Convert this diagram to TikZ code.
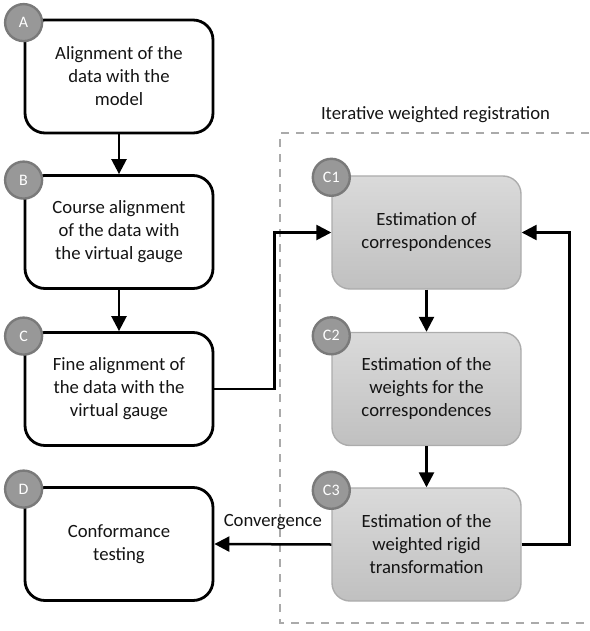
\documentclass[tikz,border=0pt]{standalone}
\usepackage{fontspec}
\setmainfont{Carlito}
\usetikzlibrary{arrows.meta,calc,positioning}
\definecolor{grtop}{RGB}{218,218,218}
\definecolor{grbot}{RGB}{192,192,192}
\definecolor{grborder}{RGB}{172,172,172}
\definecolor{circfill}{RGB}{152,152,152}
\definecolor{circborder}{RGB}{122,122,122}
\definecolor{dashgray}{RGB}{170,170,170}
\definecolor{txt}{RGB}{20,20,20}
\tikzset{
  whitebox/.style={draw=black, line width=2.8pt, fill=white, rounded corners=20pt,
    minimum width=188pt, minimum height=113pt, align=center, text=txt,
    font=\fontsize{18.7}{23}\selectfont, inner sep=0pt},
  graybox/.style={draw=grborder, line width=1.4pt, top color=grtop, bottom color=grbot,
    rounded corners=18pt, minimum width=189pt, minimum height=113pt, align=center,
    text=txt, font=\fontsize{18.7}{23}\selectfont, inner sep=0pt},
  badge/.style={circle, draw=circborder, line width=2.4pt, fill=circfill,
    minimum size=37pt, inner sep=0pt, text=white, font=\fontsize{16}{18}\selectfont},
  arr/.style={draw=black, line width=2.5pt, -{Triangle[length=15pt,width=15pt]}},
  lbl/.style={font=\fontsize{18.7}{23}\selectfont, text=txt}
}
\begin{document}
\begin{tikzpicture}[x=1pt,y=-1pt]
\useasboundingbox (0,0) rectangle (589,631);
% dashed group frame
\draw[dashgray, line width=1.8pt, dash pattern=on 8pt off 7pt] (589,133) -- (280,133) -- (280,623) -- (589,623);
\node[lbl] (title) at (435.5,115) {Iterative weighted registration};
% left column
\node[whitebox] (A) at (119,76.5) {Alignment of the\\data with the\\model};
\node[whitebox] (B) at (119,232) {Course alignment\\of the data with\\the virtual gauge};
\node[whitebox] (C) at (119,389) {Fine alignment of\\the data with the\\virtual gauge};
\node[whitebox] (D) at (119,544) {Conformance\\testing};
% right column
\node[graybox] (C1) at (426.5,232.5) {Estimation of\\correspondences};
\node[graybox] (C2) at (426.5,389) {Estimation of the\\weights for the\\correspondences};
\node[graybox] (C3) at (426.5,544.5) {Estimation of the\\weighted rigid\\transformation};
% badges
\node[badge] (bA) at ($(A.north west)+(0,4)$) {A};
\node[badge] (bB) at ($(B.north west)+(0,6)$) {B};
\node[badge] (bC) at ($(C.north west)+(0,5)$) {C};
\node[badge] (bD) at ($(D.north west)+(0,3)$) {D};
\node[badge] (bC1) at ($(C1.north west)+(0,2)$) {C1};
\node[badge] (bC2) at ($(C2.north west)+(0,4)$) {C2};
\node[badge] (bC3) at ($(C3.north west)+(0,3)$) {C3};
% connectors
\draw[arr] (A) -- (B);
\draw[arr] (B) -- (C);
\draw[arr] (C.east) -- ++(60,0) |- (C1.west);
\draw[arr] (C1) -- (C2);
\draw[arr] (C2) -- (C3);
\draw[arr] (C3.east) -- ++(48,0) |- (C1.east);
\draw[arr] (C3.west) -- node[lbl, midway, yshift=22pt] {Convergence} (D.east);
\end{tikzpicture}
\end{document}
